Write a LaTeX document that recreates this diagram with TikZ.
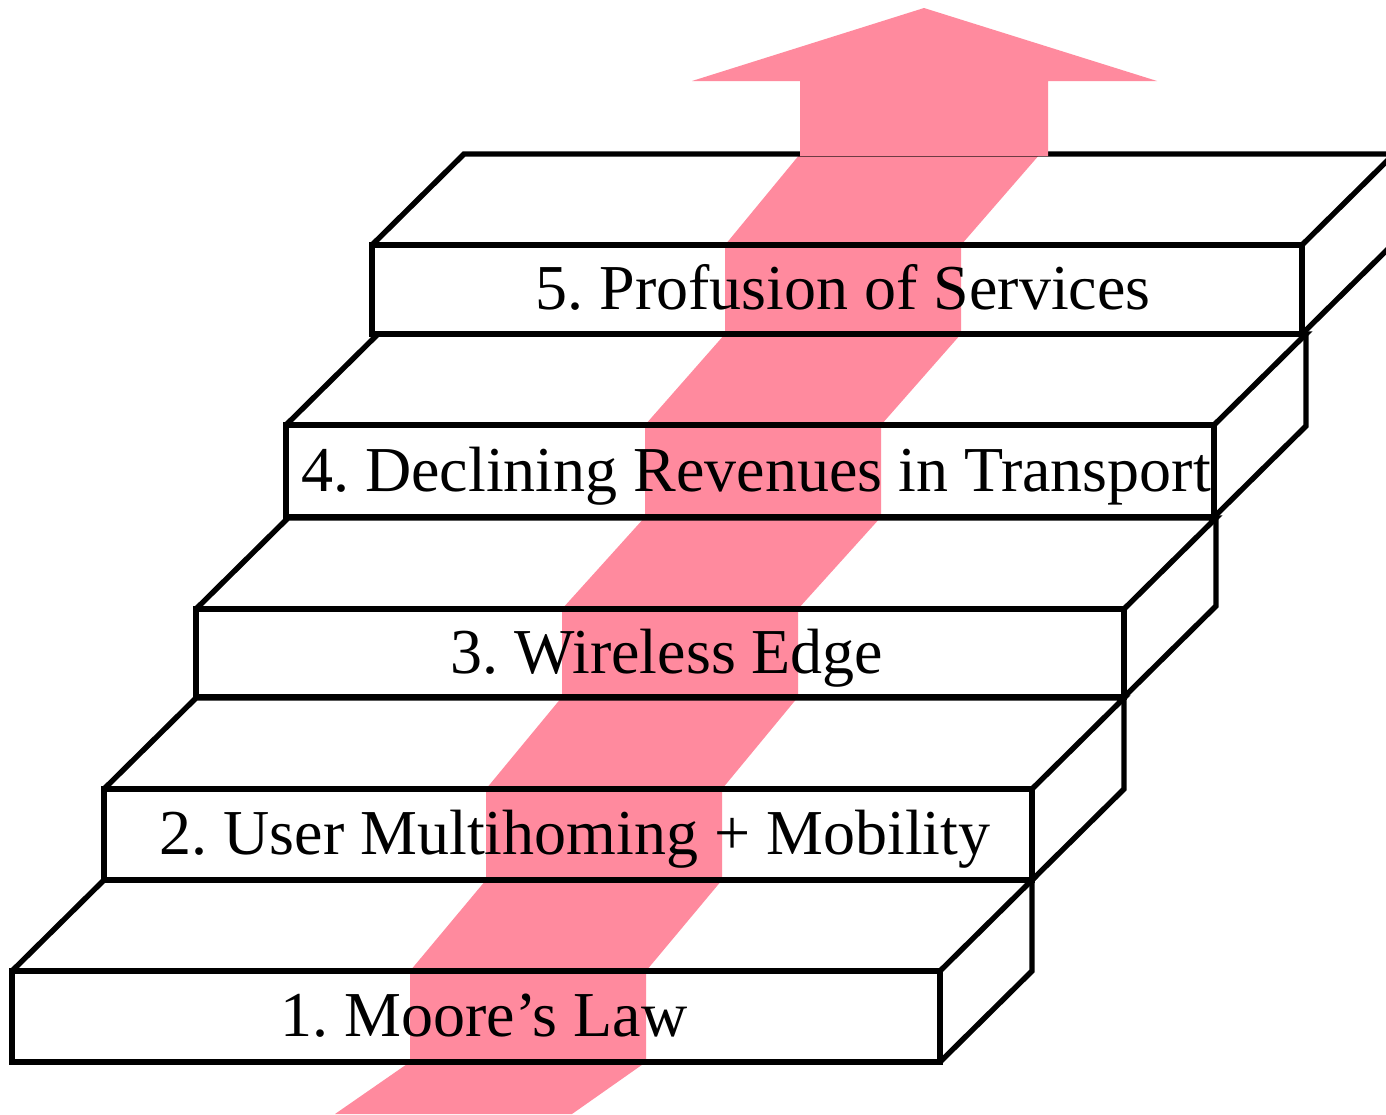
\documentclass[tikz,border=0pt]{standalone}
\usepackage{fontspec}
\setmainfont{Liberation Serif}
\definecolor{arrowpink}{RGB}{255,138,158}
\begin{document}
\frenchspacing
\begin{tikzpicture}[x=0.5pt,y=-0.5pt,
  stepline/.style={line width=2.7pt,line join=miter,draw=black},
  steplabel/.style={anchor=base,inner sep=0pt,font=\fontsize{32}{38}\selectfont}]
\useasboundingbox (0,0) rectangle (1386,1114);
\fill[white] (0,0) rectangle (1386,1114);
% pink band
\fill[arrowpink] (335,1114) -- (410,1062) -- (410,971) -- (486,880) -- (486,789) -- (562,697) -- (562,609) -- (645,517) -- (645,425) -- (725,334) -- (725,245) -- (800,154)
  -- (1040,154) -- (961,245) -- (961,334) -- (881,425) -- (881,517) -- (798,609) -- (798,697) -- (722,789) -- (722,880) -- (646,971) -- (646,1062) -- (572,1114) -- cycle;
% steps
\foreach \L/\R/\T/\B in {12/940/971/1062, 104/1032/789/880, 196/1124/609/697, 286/1214/425/517, 372/1302/245/334}{
  \draw[stepline] (\L,\T) rectangle (\R,\B);
  \draw[stepline] (\L,\T) -- ++(92,-91) -- (\R+92,\T-91) -- (\R,\T);
  \draw[stepline] (\R+92,\T-91) -- (\R+92,\B-91) -- (\R,\B);
}
% arrow shaft and head
\fill[arrowpink] (800,156) -- (800,81) -- (692,81) -- (924,8) -- (1157,81) -- (1048,81) -- (1048,156) -- cycle;
% labels
\node[steplabel] (t1) at (484,1036) {1. Moore’s Law};
\node[steplabel] (t2) at (575,854) {2. User Multihoming + Mobility};
\node[steplabel] (t3) at (667,673) {3. Wireless Edge};
\node[steplabel] (t4) at (756,491) {4. Declining Revenues in Transport};
\node[steplabel] (t5) at (843,309) {5. Profusion of Services};
\end{tikzpicture}
\end{document}
